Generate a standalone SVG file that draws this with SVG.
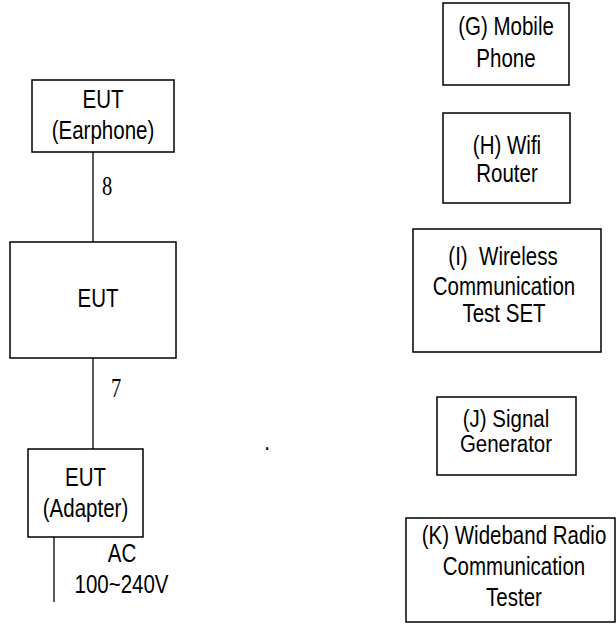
<svg xmlns="http://www.w3.org/2000/svg" width="616" height="624" viewBox="0 0 616 624">
<style>
.box{fill:#fff;stroke:#000;stroke-width:1.5}
.ln{stroke:#000;stroke-width:1.3;fill:none}
.t{font-family:"Liberation Sans",Arial,sans-serif;font-size:25px;fill:#000;text-anchor:middle}
.s{font-size:23px}
.n{font-family:"Liberation Serif","Times New Roman",serif;font-size:27px;fill:#000;text-anchor:middle}
</style>
<rect width="616" height="624" fill="#fff"/>
<g id="connectors">
<line class="ln" x1="93" y1="152" x2="93" y2="242"/>
<line class="ln" x1="93" y1="358" x2="93" y2="449"/>
<line class="ln" x1="54" y1="537" x2="54" y2="602"/>
<text class="n" transform="translate(107,195) scale(0.76,1)">8</text>
<text class="n" transform="translate(116,397) scale(0.76,1)">7</text>
</g>
<g id="eut-earphone">
<rect class="box" x="32" y="80" width="142" height="72"/>
<text class="t" transform="translate(103,108) scale(0.82,1)">EUT</text>
<text class="t" transform="translate(103,139) scale(0.82,1)">(Earphone)</text>
</g>
<g id="eut">
<rect class="box" x="10" y="242" width="166" height="116"/>
<text class="t" transform="translate(98,307) scale(0.82,1)">EUT</text>
</g>
<g id="eut-adapter">
<rect class="box" x="28" y="449" width="115" height="88"/>
<text class="t" transform="translate(85.5,486) scale(0.82,1)">EUT</text>
<text class="t" transform="translate(85.5,517) scale(0.82,1)">(Adapter)</text>
</g>
<g id="ac-label">
<text class="t" transform="translate(122,562) scale(0.82,1)">AC</text>
<text class="t" transform="translate(121.5,593) scale(0.82,1)">100~240V</text>
</g>
<g id="mobile-phone">
<rect class="box" x="443" y="3" width="126" height="82"/>
<text class="t" transform="translate(506,35) scale(0.82,1)">(G) Mobile</text>
<text class="t" transform="translate(506,67) scale(0.82,1)">Phone</text>
</g>
<g id="wifi-router">
<rect class="box" x="443" y="113" width="127" height="90"/>
<text class="t" transform="translate(507,154) scale(0.82,1)">(H) Wifi</text>
<text class="t" transform="translate(507,182) scale(0.82,1)">Router</text>
</g>
<g id="wireless-test-set">
<rect class="box" x="413" y="229" width="188" height="123"/>
<text class="t" transform="translate(503,265) scale(0.82,1)" xml:space="preserve">(I)  Wireless</text>
<text class="t" transform="translate(504,295) scale(0.82,1)">Communication</text>
<text class="t" transform="translate(504,322) scale(0.82,1)">Test SET</text>
</g>
<g id="signal-generator">
<rect class="box" x="437" y="397" width="139" height="78"/>
<text class="t s" transform="translate(506,427) scale(0.89,1)">(J) Signal</text>
<text class="t s" transform="translate(506,452) scale(0.89,1)">Generator</text>
</g>
<g id="wideband-tester">
<rect class="box" x="406" y="518" width="209" height="104"/>
<text class="t" transform="translate(514,544) scale(0.82,1)">(K) Wideband Radio</text>
<text class="t" transform="translate(514,575) scale(0.82,1)">Communication</text>
<text class="t" transform="translate(514,606) scale(0.82,1)">Tester</text>
</g>
<text class="t" transform="translate(267,450) scale(0.82,1)">.</text>
</svg>
